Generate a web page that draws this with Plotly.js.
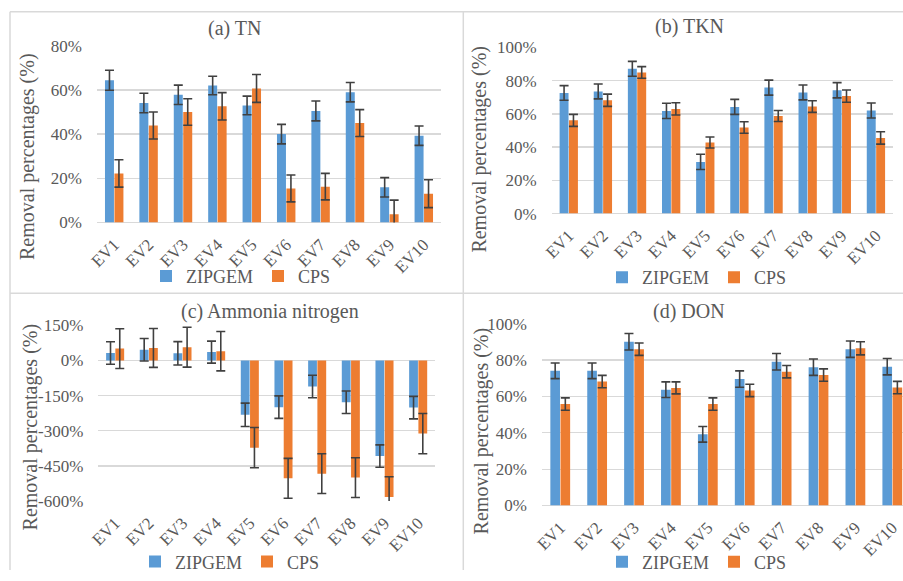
<!DOCTYPE html>
<html>
<head>
<meta charset="utf-8">
<script src="https://cdn.plot.ly/plotly-3.0.1.min.js"></script>
<style>html,body{margin:0;padding:0;background:#fff;}#chart{width:903px;height:581px;}</style>
</head>
<body>
<div id="chart"></div>
<script>
// ---- data ----
const categories = ['EV1','EV2','EV3','EV4','EV5','EV6','EV7','EV8','EV9','EV10'];
const seriesNames = ['ZIPGEM','CPS'];
const panelTitles = ['(a) TN','(b) TKN','(c) Ammonia nitrogen','(d) DON'];
const yTitle = 'Removal percentages (%)';

// (a) TN
const tnZipgem    = [64.4, 54.1, 57.8, 62.0, 53.0, 40.0, 50.5, 59.0, 15.9, 39.3];
const tnZipgemErr = [4.5, 4.4, 4.4, 4.2, 4.2, 4.4, 4.5, 4.4, 4.4, 4.4];
const tnCps       = [22.2, 43.9, 50.0, 52.6, 60.7, 15.4, 16.2, 45.0, 3.7, 13.0];
const tnCpsErr    = [6.2, 6.1, 6.0, 6.2, 6.3, 6.1, 6.0, 6.1, 6.4, 6.3];

// (b) TKN
const tknZipgem    = [72.6, 73.5, 87.1, 61.8, 31.1, 64.2, 75.8, 72.9, 74.2, 62.0];
const tknZipgemErr = [4.4, 4.5, 4.5, 4.6, 4.6, 4.5, 4.5, 4.5, 4.6, 4.5];
const tknCps       = [56.1, 68.2, 84.9, 63.0, 42.8, 51.8, 58.7, 64.4, 70.7, 45.5];
const tknCpsErr    = [3.6, 3.7, 3.5, 3.7, 3.3, 3.5, 3.3, 3.5, 3.7, 3.7];

// (c) Ammonia nitrogen
const nh3Zipgem    = [32, 46, 31, 36, -232, -199, -111, -178, -408, -201];
const nh3ZipgemErr = [48, 48, 50, 47, 50, 48, 48, 48, 48, 48];
const nh3Cps       = [51, 54, 57, 40, -372, -503, -483, -500, -583, -312];
const nh3CpsErr    = [85, 83, 85, 84, 86, 85, 85, 85, 87, 86];

// (d) DON
const donZipgem    = [74.1, 74.1, 90.1, 63.7, 39.2, 69.6, 79.1, 76.1, 86.0, 76.4];
const donZipgemErr = [4.3, 4.3, 4.5, 4.3, 4.3, 4.5, 4.5, 4.5, 4.5, 4.5];
const donCps       = [55.8, 68.2, 86.0, 64.7, 55.8, 63.3, 73.6, 71.8, 86.5, 64.9];
const donCpsErr    = [3.4, 3.4, 3.4, 3.3, 3.4, 3.4, 3.4, 3.4, 3.6, 3.4];

// tick labels
const pct0to80Vals   = [0, 20, 40, 60, 80];
const pct0to80Text   = ['0%','20%','40%','60%','80%'];
const pct0to100Vals  = [0, 20, 40, 60, 80, 100];
const pct0to100Text  = ['0%','20%','40%','60%','80%','100%'];
const nh3TickVals    = [-600, -450, -300, -150, 0, 150];
const nh3TickText    = ['-600%','-450%','-300%','-150%','0%','150%'];

// ---- styling / layout helpers ----
const W = 903, H = 581;
const fx = p => p / W;
const fy = p => 1 - p / H;
const BLUE = '#5B9BD5', ORANGE = '#ED7D31', TXT = '#595959', GRID = '#D9D9D9';
const FONT = 'Liberation Serif';

function barTrace(name, y, err, color, xa, ya, legendId, clip) {
  return {
    type: 'bar', name: name, x: categories, y: y,
    xaxis: xa, yaxis: ya, legend: legendId,
    marker: {color: color},
    cliponaxis: clip,
    error_y: {type: 'data', array: err, visible: true, color: '#404040', thickness: 1.6, width: 4.5}
  };
}

const data = [
  barTrace(seriesNames[0], tnZipgem, tnZipgemErr, BLUE, 'x', 'y', 'legend', true),
  barTrace(seriesNames[1], tnCps, tnCpsErr, ORANGE, 'x', 'y', 'legend', true),
  barTrace(seriesNames[0], tknZipgem, tknZipgemErr, BLUE, 'x2', 'y2', 'legend2', true),
  barTrace(seriesNames[1], tknCps, tknCpsErr, ORANGE, 'x2', 'y2', 'legend2', true),
  barTrace(seriesNames[0], nh3Zipgem, nh3ZipgemErr, BLUE, 'x3', 'y3', 'legend3', false),
  barTrace(seriesNames[1], nh3Cps, nh3CpsErr, ORANGE, 'x3', 'y3', 'legend3', false),
  barTrace(seriesNames[0], donZipgem, donZipgemErr, BLUE, 'x4', 'y4', 'legend4', true),
  barTrace(seriesNames[1], donCps, donCpsErr, ORANGE, 'x4', 'y4', 'legend4', true)
];

function xAxis(x0, x1, anchor, range) {
  return {
    domain: [fx(x0), fx(x1)], anchor: anchor, type: 'category',
    range: range, autorange: false, showgrid: false, zeroline: false, showline: false,
    ticks: '', tickangle: -45, ticklabelstandoff: 8,
    tickfont: {family: FONT, size: 17, color: TXT}
  };
}
function yAxis(y0, y1, anchor, range, vals, text) {
  return {
    domain: [fy(y1), fy(y0)], anchor: anchor, range: range, autorange: false,
    tickmode: 'array', tickvals: vals, ticktext: text,
    showgrid: true, gridcolor: GRID, gridwidth: 1.3,
    zeroline: true, zerolinecolor: GRID, zerolinewidth: 1.3, showline: false,
    ticks: '', ticklabelstandoff: 14,
    tickfont: {family: FONT, size: 17, color: TXT}
  };
}
function legend(cx, cy) {
  return {
    orientation: 'h', x: fx(cx), y: fy(cy), xanchor: 'center', yanchor: 'middle',
    font: {family: FONT, size: 18, color: TXT}, bgcolor: 'rgba(0,0,0,0)',
    itemwidth: 30, traceorder: 'normal'
  };
}
function ann(text, cx, cy, angle) {
  return {
    text: text, xref: 'paper', yref: 'paper', x: fx(cx), y: fy(cy),
    xanchor: 'center', yanchor: 'middle', showarrow: false, textangle: angle,
    font: {family: FONT, size: 20, color: TXT}
  };
}
function line(x0, y0, x1, y1) {
  return {type: 'line', xref: 'paper', yref: 'paper', x0: fx(x0), y0: fy(y0), x1: fx(x1), y1: fy(y1),
          line: {color: GRID, width: 1.5}};
}

const layout = {
  width: W, height: H, margin: {l: 0, r: 0, t: 0, b: 0},
  paper_bgcolor: '#fff', plot_bgcolor: 'rgba(0,0,0,0)',
  barmode: 'group', bargap: 0.45, bargroupgap: 0.05,
  font: {family: FONT, color: TXT},
  xaxis:  xAxis(97, 441, 'y', [-0.5, 9.5]),
  yaxis:  yAxis(46.7, 226.7, 'x', [0, 80], pct0to80Vals, pct0to80Text),
  xaxis2: xAxis(551.7, 893, 'y2', [-0.5, 9.5]),
  yaxis2: yAxis(48.3, 217.7, 'x2', [0, 100], pct0to100Vals, pct0to100Text),
  xaxis3: xAxis(98.3, 435, 'y3', [-0.5, 9.5]),
  yaxis3: yAxis(331.7, 510.7, 'x3', [-600, 150], nh3TickVals, nh3TickText),
  xaxis4: xAxis(541.8, 903, 'y4', [-0.5, 9.29]),
  yaxis4: yAxis(330, 515.3, 'x4', [0, 100], pct0to100Vals, pct0to100Text),
  legend:  legend(241, 281.7),
  legend2: legend(697, 283),
  legend3: legend(230, 572.7),
  legend4: legend(697, 573),
  annotations: [
    ann(panelTitles[0], 235, 28.7, 0),
    ann(panelTitles[1], 689, 27.3, 0),
    ann(panelTitles[2], 270, 317.7, 0),
    ann(panelTitles[3], 689, 317.7, 0),
    ann(yTitle, 28, 160, -90),
    ann(yTitle, 480, 152.5, -90),
    ann(yTitle, 30, 435.7, -90),
    ann(yTitle, 481.7, 439, -90)
  ],
  shapes: [
    line(10, 12, 903, 12),
    line(10, 12, 10, 581),
    line(463.3, 12, 463.3, 581),
    line(10, 299, 903, 299)
  ]
};

Plotly.newPlot('chart', data, layout, {staticPlot: true, displayModeBar: false});
</script>
</body>
</html>
